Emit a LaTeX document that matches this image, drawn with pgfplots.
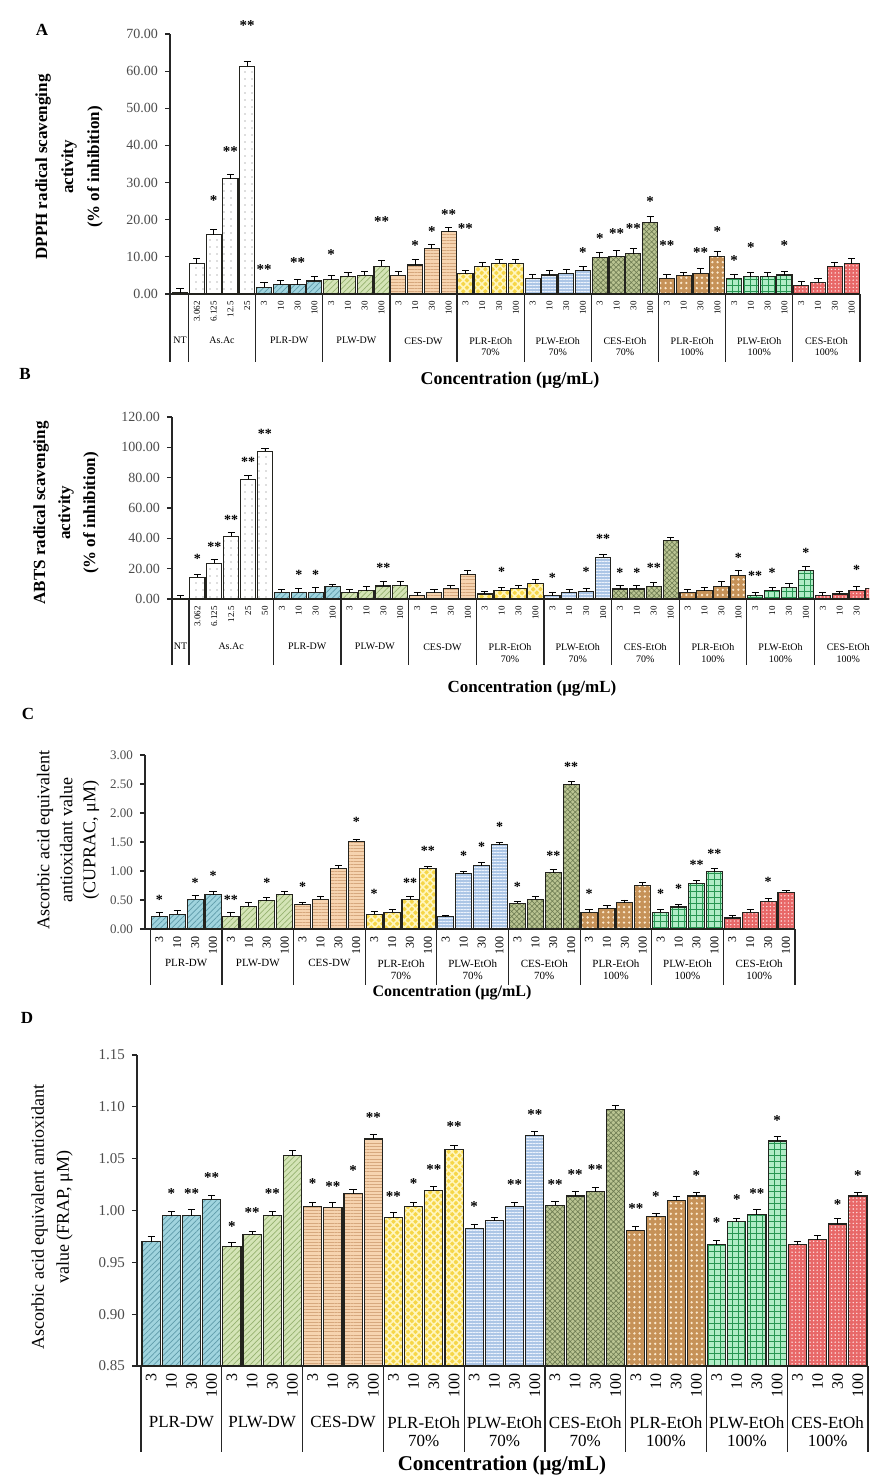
\documentclass[border=0pt]{standalone}
\usepackage{fontspec}
\setmainfont{Liberation Serif}
\usepackage{pgfplots}
\pgfplotsset{compat=1.18}
\usetikzlibrary{patterns.meta}

\definecolor{c1}{RGB}{160,212,222}
\definecolor{p1}{RGB}{95,155,170}
\definecolor{c2}{RGB}{212,228,182}
\definecolor{p2}{RGB}{150,178,112}
\definecolor{c3}{RGB}{246,212,176}
\definecolor{p3}{RGB}{214,168,126}
\definecolor{c4}{RGB}{246,214,72}
\definecolor{p4}{RGB}{255,246,190}
\definecolor{c5}{RGB}{172,198,230}
\definecolor{p5}{RGB}{235,242,252}
\definecolor{c6}{RGB}{186,196,146}
\definecolor{p6}{RGB}{110,124,82}
\definecolor{c7}{RGB}{198,146,88}
\definecolor{p7}{RGB}{250,232,205}
\definecolor{c8}{RGB}{176,236,198}
\definecolor{p8}{RGB}{40,150,82}
\definecolor{c9}{RGB}{232,104,104}
\definecolor{p9}{RGB}{255,225,225}
\definecolor{edge}{RGB}{35,35,30}

\tikzset{
  g0/.style={fill=white},
  ga/.style={fill=white, postaction={pattern={Dots[distance=3.5pt,radius=0.35pt]}, pattern color=black!55}},
  g1/.style={fill=c1, postaction={pattern={Lines[angle=45,distance=2pt,line width=0.35pt]}, pattern color=p1}},
  g2/.style={fill=c2, postaction={pattern={Lines[angle=45,distance=2pt,line width=0.35pt]}, pattern color=p2}},
  g3/.style={fill=c3, postaction={pattern={Lines[angle=0,distance=1.6pt,line width=0.3pt]}, pattern color=p3}},
  g4/.style={fill=c4, postaction={pattern={Hatch[angle=45,distance=2.6pt,line width=0.8pt]}, pattern color=p4}},
  g5/.style={fill=c5, postaction={pattern={Lines[angle=0,distance=1.5pt,line width=0.45pt]}, pattern color=p5}},
  g6/.style={fill=c6, postaction={pattern={Hatch[angle=45,distance=1.8pt,line width=0.3pt]}, pattern color=p6}},
  g7/.style={fill=c7, postaction={pattern={Dots[distance=2.6pt,radius=0.65pt]}, pattern color=p7}},
  g8/.style={fill=c8, postaction={pattern={Hatch[angle=0,distance=3pt,line width=0.45pt]}, pattern color=p8}},
  g9/.style={fill=c9, postaction={pattern={Dots[distance=1.8pt,radius=0.4pt]}, pattern color=p9}},
  sep/.style={line width=0.6pt, black!85},
  gnA/.style={anchor=north, yshift=-21.5pt, inner sep=0pt, align=center, font=\fontsize{5}{5.5}\selectfont},
  gnB/.style={anchor=north, yshift=-22pt, inner sep=0pt, align=center, font=\fontsize{5}{6}\selectfont},
  gnC/.style={anchor=north, yshift=-15pt, inner sep=0pt, align=center, font=\fontsize{5.5}{6}\selectfont},
  gnD/.style={anchor=north, yshift=-25pt, inner sep=0pt, align=center, font=\fontsize{8.5}{9}\selectfont},
}

\pgfplotsset{
  panel/.style={
    scale only axis, anchor=south west, clip=false,
    axis x line*=bottom, axis y line*=left,
    axis line style={line width=0.6pt, black!85},
    tick align=outside, major tick length=2.5pt,
    xtick style={draw=none},
    ytick style={line width=0.6pt, black!85},
    xticklabel style={rotate=90, anchor=east, inner sep=1pt},
    /pgf/number format/assume math mode=true,
    yticklabel style={/pgf/number format/fixed, /pgf/number format/fixed zerofill, /pgf/number format/precision=2, black!70},
  },
  bars/.style={ybar, bar width=0.9, bar shift=0pt, draw=edge, line width=0.55pt,
    error bars/y dir=plus, error bars/y explicit,
    error bars/error bar style={line width=0.45pt, black},
    error bars/error mark options={rotate=90, mark size=1.8pt, line width=0.45pt, black}},
  stars/.style={only marks, mark=*, mark size=0pt,
    scatter/use mapped color={draw=none, fill=none},
    point meta=explicit symbolic, nodes near coords,
    nodes near coords style={anchor=center, yshift=-1.5pt, inner sep=0pt, text=black, font=\bfseries\fontsize{#1}{#1}\selectfont}},
}

\begin{document}
\begin{tikzpicture}
\useasboundingbox (0pt,0pt) rectangle (434.5pt,739.5pt);
\clip (0pt,0pt) rectangle (434.5pt,739.5pt);

% ---------------- Panel A ----------------
\begin{axis}[panel, at={(85pt,592.5pt)}, width=345pt, height=130pt,
  xmin=-0.6, xmax=40.5, ymin=0, ymax=70, ytick={0,10,20,30,40,50,60,70},
  xtick={0,...,40},
  xticklabels={{},3.062,6.125,12.5,25,3,10,30,100,3,10,30,100,3,10,30,100,3,10,30,100,3,10,30,100,3,10,30,100,3,10,30,100,3,10,30,100,3,10,30,100},
  xticklabel style={font=\fontsize{4.5}{5}\selectfont},
  yticklabel style={font=\fontsize{7}{8}\selectfont}]
\addplot[bars, g0] coordinates {(0,0.3) +- (0,1.3)};
\addplot[bars, ga] coordinates {(1,8.2) +- (0,1.3) (2,16.0) +- (0,1.3) (3,31.0) +- (0,1.2) (4,61.3) +- (0,1.2)};
\addplot[bars, g1] coordinates {(5,1.8) +- (0,1.3) (6,2.5) +- (0,1.2) (7,2.5) +- (0,1.5) (8,3.5) +- (0,1.2)};
\addplot[bars, g2] coordinates {(9,3.8) +- (0,1.2) (10,4.8) +- (0,1.0) (11,5.0) +- (0,1.0) (12,7.5) +- (0,1.5)};
\addplot[bars, g3] coordinates {(13,5.0) +- (0,1.2) (14,7.8) +- (0,1.5) (15,12.2) +- (0,1.2) (16,16.8) +- (0,1.2)};
\addplot[bars, g4] coordinates {(17,5.4) +- (0,1.0) (18,7.4) +- (0,1.0) (19,8.3) +- (0,1.0) (20,8.3) +- (0,1.0)};
\addplot[bars, g5] coordinates {(21,4.2) +- (0,1.0) (22,5.1) +- (0,1.2) (23,5.4) +- (0,1.2) (24,6.3) +- (0,1.0)};
\addplot[bars, g6] coordinates {(25,9.9) +- (0,1.2) (26,10.1) +- (0,1.5) (27,10.8) +- (0,1.5) (28,19.3) +- (0,1.5)};
\addplot[bars, g7] coordinates {(29,4.2) +- (0,1.0) (30,4.9) +- (0,1.0) (31,5.6) +- (0,1.2) (32,10.1) +- (0,1.3)};
\addplot[bars, g8] coordinates {(33,4.2) +- (0,1.0) (34,4.7) +- (0,1.0) (35,4.7) +- (0,1.0) (36,5.1) +- (0,1.0)};
\addplot[bars, g9] coordinates {(37,2.4) +- (0,1.0) (38,3.1) +- (0,1.0) (39,7.4) +- (0,1.2) (40,8.1) +- (0,1.4)};
\addplot[stars=7.5] table[meta=s] {
x y s
2 26.1 *
3 39.1 **
4 73.0 **
5 7.4 **
7 9.4 **
9 11.4 *
12 20.3 **
14 13.9 *
15 17.7 *
16 22.3 **
17 18.4 **
24 11.9 *
25 15.7 *
26 17.1 **
27 18.4 **
28 25.6 *
29 13.9 **
31 11.9 **
32 17.7 *
33 9.9 *
34 13.2 *
36 13.9 *
};
\pgfplotsinvokeforeach{-0.6,0.5,4.5,8.5,12.5,16.5,20.5,24.5,28.5,32.5,36.5,40.5}{\draw[sep] (axis cs:#1,0) -- ++(0pt,-34pt);}
\node[gnA] at (axis cs:0,0) {NT};
\node[gnA] at (axis cs:2.5,0) {As.Ac};
\node[gnA] at (axis cs:6.5,0) {PLR-DW};
\node[gnA] at (axis cs:10.5,0) {PLW-DW};
\node[gnA] at (axis cs:14.5,0) {CES-DW};
\node[gnA] at (axis cs:18.5,0) {PLR-EtOh\\70\%};
\node[gnA] at (axis cs:22.5,0) {PLW-EtOh\\70\%};
\node[gnA] at (axis cs:26.5,0) {CES-EtOh\\70\%};
\node[gnA] at (axis cs:30.5,0) {PLR-EtOh\\100\%};
\node[gnA] at (axis cs:34.5,0) {PLW-EtOh\\100\%};
\node[gnA] at (axis cs:38.5,0) {CES-EtOh\\100\%};
\end{axis}

% ---------------- Panel B ----------------
\begin{axis}[panel, at={(86pt,440pt)}, width=355pt, height=91pt,
  xmin=-0.5, xmax=41.5, ymin=0, ymax=120, ytick={0,20,40,60,80,100,120},
  xtick={0,...,41},
  xticklabels={{},3.062,6.125,12.5,25,50,3,10,30,100,3,10,30,100,3,10,30,100,3,10,30,100,3,10,30,100,3,10,30,100,3,10,30,100,3,10,30,100,3,10,30,100},
  xticklabel style={font=\fontsize{4.5}{5}\selectfont},
  yticklabel style={font=\fontsize{7}{8}\selectfont}]
\addplot[bars, g0] coordinates {(0,0.5) +- (0,2.0)};
\addplot[bars, ga] coordinates {(1,14.3) +- (0,2) (2,23.5) +- (0,2.5) (3,41.5) +- (0,2.5) (4,79) +- (0,2.5) (5,97.5) +- (0,2)};
\addplot[bars, g1] coordinates {(6,4.5) +- (0,2) (7,4.0) +- (0,3) (8,4.5) +- (0,3) (9,8.0) +- (0,1.5)};
\addplot[bars, g2] coordinates {(10,4.4) +- (0,2) (11,5.5) +- (0,2.5) (12,8.6) +- (0,3) (13,8.8) +- (0,3)};
\addplot[bars, g3] coordinates {(14,2.2) +- (0,2) (15,4.0) +- (0,2) (16,7.0) +- (0,2) (17,16.0) +- (0,3)};
\addplot[bars, g4] coordinates {(18,3.3) +- (0,2) (19,5.5) +- (0,2) (20,7.0) +- (0,2) (21,10.0) +- (0,3)};
\addplot[bars, g5] coordinates {(22,2.2) +- (0,2) (23,4.0) +- (0,2) (24,4.9) +- (0,2) (25,27.6) +- (0,2)};
\addplot[bars, g6] coordinates {(26,6.6) +- (0,2) (27,6.6) +- (0,2) (28,8.4) +- (0,2.5) (29,38.6) +- (0,2)};
\addplot[bars, g7] coordinates {(30,4.4) +- (0,2) (31,5.5) +- (0,2) (32,8.4) +- (0,3) (33,15.5) +- (0,3)};
\addplot[bars, g8] coordinates {(34,2.2) +- (0,2) (35,5.5) +- (0,2) (36,7.7) +- (0,2.5) (37,18.8) +- (0,2.5)};
\addplot[bars, g9] coordinates {(38,2.2) +- (0,2) (39,3.3) +- (0,2) (40,5.5) +- (0,2.5) (41,7.0) +- (0,2.5)};
\addplot[stars=7] table[meta=s] {
x y s
1 28.5 *
2 36.4 **
3 54 **
4 92.6 **
5 111 **
7 17.7 *
8 17.7 *
12 22.5 **
19 19.9 *
22 15.9 *
24 19.9 *
25 41.7 **
26 19.5 *
27 19.5 *
28 22.5 **
33 29.4 *
34 17 **
35 19.5 *
37 32.7 *
40 21 *
41 22 *
};
\pgfplotsinvokeforeach{-0.5,0.5,5.5,9.5,13.5,17.5,21.5,25.5,29.5,33.5,37.5,41.5}{\draw[sep] (axis cs:#1,0) -- ++(0pt,-33pt);}
\node[gnB] at (axis cs:0,0) {NT};
\node[gnB] at (axis cs:3,0) {As.Ac};
\node[gnB] at (axis cs:7.5,0) {PLR-DW};
\node[gnB] at (axis cs:11.5,0) {PLW-DW};
\node[gnB] at (axis cs:15.5,0) {CES-DW};
\node[gnB] at (axis cs:19.5,0) {PLR-EtOh\\70\%};
\node[gnB] at (axis cs:23.5,0) {PLW-EtOh\\70\%};
\node[gnB] at (axis cs:27.5,0) {CES-EtOh\\70\%};
\node[gnB] at (axis cs:31.5,0) {PLR-EtOh\\100\%};
\node[gnB] at (axis cs:35.5,0) {PLW-EtOh\\100\%};
\node[gnB] at (axis cs:39.5,0) {CES-EtOh\\100\%};
\end{axis}

% ---------------- Panel C ----------------
\begin{axis}[panel, at={(72.5pt,275pt)}, width=325pt, height=87pt,
  xmin=-0.8, xmax=35.5, ymin=0, ymax=3, ytick={0,0.5,1,1.5,2,2.5,3},
  xtick={0,...,35},
  xticklabels={3,10,30,100,3,10,30,100,3,10,30,100,3,10,30,100,3,10,30,100,3,10,30,100,3,10,30,100,3,10,30,100,3,10,30,100},
  xticklabel style={font=\fontsize{6}{6}\selectfont},
  yticklabel style={font=\fontsize{6.5}{7}\selectfont}]
\addplot[bars, g1] coordinates {(0,0.22) +- (0,0.06) (1,0.25) +- (0,0.07) (2,0.51) +- (0,0.06) (3,0.59) +- (0,0.06)};
\addplot[bars, g2] coordinates {(4,0.22) +- (0,0.07) (5,0.39) +- (0,0.06) (6,0.49) +- (0,0.06) (7,0.59) +- (0,0.05)};
\addplot[bars, g3] coordinates {(8,0.42) +- (0,0.04) (9,0.51) +- (0,0.05) (10,1.04) +- (0,0.06) (11,1.51) +- (0,0.04)};
\addplot[bars, g4] coordinates {(12,0.25) +- (0,0.05) (13,0.29) +- (0,0.05) (14,0.51) +- (0,0.05) (15,1.04) +- (0,0.04)};
\addplot[bars, g5] coordinates {(16,0.21) +- (0,0.03) (17,0.95) +- (0,0.05) (18,1.09) +- (0,0.05) (19,1.45) +- (0,0.04)};
\addplot[bars, g6] coordinates {(20,0.44) +- (0,0.04) (21,0.51) +- (0,0.05) (22,0.97) +- (0,0.05) (23,2.49) +- (0,0.05)};
\addplot[bars, g7] coordinates {(24,0.29) +- (0,0.04) (25,0.36) +- (0,0.04) (26,0.45) +- (0,0.05) (27,0.75) +- (0,0.05)};
\addplot[bars, g8] coordinates {(28,0.29) +- (0,0.04) (29,0.38) +- (0,0.05) (30,0.79) +- (0,0.05) (31,0.99) +- (0,0.05)};
\addplot[bars, g9] coordinates {(32,0.19) +- (0,0.04) (33,0.29) +- (0,0.04) (34,0.48) +- (0,0.05) (35,0.63) +- (0,0.04)};
\addplot[stars=7] table[meta=s] {
x y s
0 0.56 *
2 0.85 *
3 0.97 *
4 0.56 **
6 0.85 *
8 0.78 *
11 1.90 *
12 0.65 *
14 0.85 **
15 1.39 **
17 1.31 *
18 1.47 *
19 1.81 *
20 0.78 *
22 1.31 **
23 2.85 **
24 0.65 *
28 0.65 *
29 0.74 *
30 1.15 **
31 1.35 **
34 0.86 *
};
\pgfplotsinvokeforeach{-0.5,3.5,7.5,11.5,15.5,19.5,23.5,27.5,31.5,35.5}{\draw[sep] (axis cs:#1,0) -- ++(0pt,-28pt);}
\node[gnC] at (axis cs:1.5,0) {PLR-DW};
\node[gnC] at (axis cs:5.5,0) {PLW-DW};
\node[gnC] at (axis cs:9.5,0) {CES-DW};
\node[gnC] at (axis cs:13.5,0) {PLR-EtOh\\70\%};
\node[gnC] at (axis cs:17.5,0) {PLW-EtOh\\70\%};
\node[gnC] at (axis cs:21.5,0) {CES-EtOh\\70\%};
\node[gnC] at (axis cs:25.5,0) {PLR-EtOh\\100\%};
\node[gnC] at (axis cs:29.5,0) {PLW-EtOh\\100\%};
\node[gnC] at (axis cs:33.5,0) {CES-EtOh\\100\%};
\end{axis}

% ---------------- Panel D ----------------
\begin{axis}[panel, clip=true, clip mode=individual, at={(68.5pt,56.5pt)}, width=365.5pt, height=155.5pt,
  xmin=-0.7, xmax=35.5, ymin=0.85, ymax=1.15, ytick={0.85,0.9,0.95,1,1.05,1.1,1.15},
  xtick={0,...,35},
  xticklabels={3,10,30,100,3,10,30,100,3,10,30,100,3,10,30,100,3,10,30,100,3,10,30,100,3,10,30,100,3,10,30,100,3,10,30,100},
  xticklabel style={font=\fontsize{8}{8}\selectfont},
  yticklabel style={font=\fontsize{7.5}{8}\selectfont}]
\addplot[bars, g1] coordinates {(0,0.970) +- (0,0.005) (1,0.995) +- (0,0.004) (2,0.995) +- (0,0.006) (3,1.011) +- (0,0.004)};
\addplot[bars, g2] coordinates {(4,0.965) +- (0,0.004) (5,0.977) +- (0,0.003) (6,0.995) +- (0,0.004) (7,1.053) +- (0,0.005)};
\addplot[bars, g3] coordinates {(8,1.004) +- (0,0.004) (9,1.003) +- (0,0.005) (10,1.016) +- (0,0.004) (11,1.069) +- (0,0.004)};
\addplot[bars, g4] coordinates {(12,0.993) +- (0,0.005) (13,1.004) +- (0,0.004) (14,1.019) +- (0,0.004) (15,1.059) +- (0,0.004)};
\addplot[bars, g5] coordinates {(16,0.983) +- (0,0.004) (17,0.990) +- (0,0.003) (18,1.004) +- (0,0.004) (19,1.072) +- (0,0.004)};
\addplot[bars, g6] coordinates {(20,1.005) +- (0,0.004) (21,1.014) +- (0,0.004) (22,1.018) +- (0,0.004) (23,1.097) +- (0,0.004)};
\addplot[bars, g7] coordinates {(24,0.981) +- (0,0.004) (25,0.994) +- (0,0.003) (26,1.010) +- (0,0.004) (27,1.014) +- (0,0.003)};
\addplot[bars, g8] coordinates {(28,0.967) +- (0,0.004) (29,0.989) +- (0,0.003) (30,0.996) +- (0,0.005) (31,1.067) +- (0,0.004)};
\addplot[bars, g9] coordinates {(32,0.967) +- (0,0.003) (33,0.972) +- (0,0.004) (34,0.987) +- (0,0.005) (35,1.014) +- (0,0.003)};
\addplot[stars=7.5] table[meta=s] {
x y s
1 1.019 *
2 1.019 **
3 1.035 **
4 0.987 *
5 1.001 **
6 1.019 **
8 1.029 *
9 1.026 **
10 1.041 *
11 1.093 **
12 1.016 **
13 1.029 *
14 1.042 **
15 1.084 **
16 1.007 *
18 1.028 **
19 1.095 **
20 1.028 **
21 1.038 **
22 1.042 **
24 1.005 **
25 1.016 *
27 1.037 *
28 0.991 *
29 1.013 *
30 1.019 **
31 1.090 *
34 1.009 *
35 1.037 *
};
\pgfplotsinvokeforeach{-0.5,3.5,7.5,11.5,15.5,19.5,23.5,27.5,31.5,35.5}{\draw[sep] (axis cs:#1,0.85) -- ++(0pt,-43pt);}
\node[gnD] at (axis cs:1.5,0.85) {PLR-DW};
\node[gnD] at (axis cs:5.5,0.85) {PLW-DW};
\node[gnD] at (axis cs:9.5,0.85) {CES-DW};
\node[gnD] at (axis cs:13.5,0.85) {PLR-EtOh\\70\%};
\node[gnD] at (axis cs:17.5,0.85) {PLW-EtOh\\70\%};
\node[gnD] at (axis cs:21.5,0.85) {CES-EtOh\\70\%};
\node[gnD] at (axis cs:25.5,0.85) {PLR-EtOh\\100\%};
\node[gnD] at (axis cs:29.5,0.85) {PLW-EtOh\\100\%};
\node[gnD] at (axis cs:33.5,0.85) {CES-EtOh\\100\%};
\end{axis}

% ---------------- labels ----------------
\node[font=\bfseries\fontsize{8.5}{9}\selectfont] at (21pt,724.5pt) {A};
\node[font=\bfseries\fontsize{8.5}{9}\selectfont] at (12.5pt,552.5pt) {B};
\node[font=\bfseries\fontsize{8.5}{9}\selectfont] at (14pt,382.5pt) {C};
\node[font=\bfseries\fontsize{8.5}{9}\selectfont] at (13.5pt,230.5pt) {D};

\node[rotate=90, align=center, font=\bfseries\fontsize{8.5}{13}\selectfont] at (34.5pt,656pt) {DPPH radical scavenging\\activity\\(\% of inhibition)};
\node[rotate=90, align=center, font=\bfseries\fontsize{8.5}{12.5}\selectfont] at (33pt,483pt) {ABTS radical scavenging\\activity\\(\% of inhibition)};
\node[rotate=90, align=center, font=\fontsize{9}{11.5}\selectfont] at (34pt,319.5pt) {Ascorbic acid equivalent\\antioxidant value\\(CUPRAC, μM)};
\node[rotate=90, align=center, font=\fontsize{9}{12.5}\selectfont] at (26pt,131pt) {Ascorbic acid equivalent antioxidant\\value (FRAP, μM)};

\node[font=\bfseries\fontsize{9}{10}\selectfont] at (255pt,549.5pt) {Concentration (μg/mL)};
\node[font=\bfseries\fontsize{8.5}{10}\selectfont] at (266pt,395.5pt) {Concentration (μg/mL)};
\node[font=\bfseries\fontsize{8}{10}\selectfont] at (226pt,243pt) {Concentration (μg/mL)};
\node[font=\bfseries\fontsize{10.5}{12}\selectfont] at (251pt,6.5pt) {Concentration (μg/mL)};
\end{tikzpicture}
\end{document}
